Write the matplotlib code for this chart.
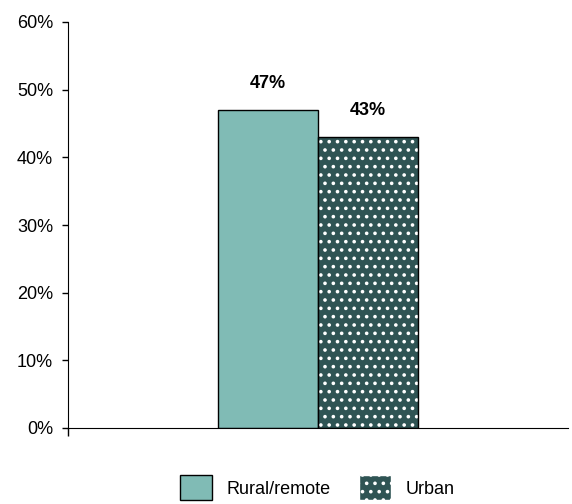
import matplotlib.pyplot as plt
from matplotlib.patches import Patch
from matplotlib.ticker import PercentFormatter

plt.rcParams['font.family'] = ['Liberation Sans', 'DejaVu Sans']
plt.rcParams['hatch.linewidth'] = 1.4

groups = ['Rural/remote', 'Urban']
values = [47, 43]
colors = ['#80bbb5', '#2f5454']
hatches = ['', '..']

fig = plt.figure(figsize=(5.72, 5.04), dpi=100)
ax = fig.add_axes([68 / 572, 76 / 504, 500 / 572, 406 / 504])

xs = [-0.1, 0.1]
for x, v, c, h in zip(xs, values, colors, hatches):
    # fill + white dots first, then the black outline on top
    ax.bar(x, v, width=0.2, color=c, hatch=h, edgecolor='white', linewidth=0)
    ax.bar(x, v, width=0.2, fill=False, edgecolor='black', linewidth=1)
    ax.text(x, v + 2.7, f'{v}%', ha='center', va='bottom', fontsize=13, fontweight='bold')

ax.set_xlim(-0.5, 0.5)
ax.set_ylim(0, 60)
ax.set_yticks(range(0, 61, 10))
ax.yaxis.set_major_formatter(PercentFormatter(decimals=0))
ax.set_xticks([-0.5])
ax.set_xticklabels([])
ax.tick_params(axis='y', length=4.3, width=1, labelsize=13, pad=6.5)
ax.tick_params(axis='x', length=5.5, width=1)
ax.spines['top'].set_visible(False)
ax.spines['right'].set_visible(False)

handles = [Patch(facecolor=colors[0], edgecolor='black', label=groups[0]),
           Patch(facecolor=colors[1], edgecolor='white', hatch='..', label=groups[1])]
fig.legend(handles=handles, loc='center', bbox_to_anchor=(0.555, 0.032), ncol=2,
           frameon=False, fontsize=13, handlelength=1.77, handleheight=1.77,
           columnspacing=1.55, handletextpad=0.83, borderpad=0)

fig.savefig('out.png', dpi=100)
